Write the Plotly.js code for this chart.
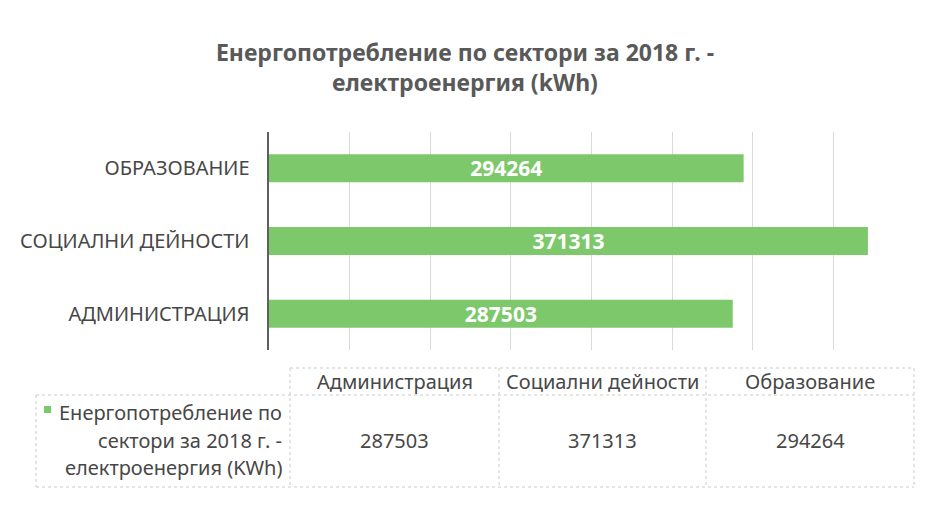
<!DOCTYPE html>
<html>
<head>
<meta charset="utf-8">
<script src="https://cdn.plot.ly/plotly-3.0.1.min.js"></script>
<style>html,body{margin:0;padding:0;background:#fff;}#chart{width:930px;height:506px;}</style>
</head>
<body>
<div id="chart"></div>
<script>
// ---- data ----
var categories = ['Администрация', 'Социални дейности', 'Образование'];
var values = [287503, 371313, 294264];
var seriesLabelLines = ['Енергопотребление по', 'сектори за 2018 г. -', 'електроенергия (KWh)'];
var chartTitle = 'Енергопотребление по сектори за 2018 г. -<br>електроенергия (kWh)';

// ---- layout helpers ----
var W = 930, H = 506;
var M = {l: 269, r: 60, t: 132, b: 156};
var PW = W - M.l - M.r, PH = H - M.t - M.b;
function px(x) { return (x - M.l) / PW; }
function py(y) { return (H - M.b - y) / PH; }

var FONT = '"Noto Sans", "Open Sans", "DejaVu Sans", sans-serif';
var green = '#7ec86c';
var textGray = '#474747';
var lineGray = '#cacaca';
var tableSize = 20;

var trace = {
  type: 'bar',
  orientation: 'h',
  y: categories.map(function (c) { return c.toUpperCase(); }),
  x: values,
  marker: {color: green},
  text: values.map(String),
  textposition: 'inside',
  insidetextanchor: 'middle',
  constraintext: 'none',
  textfont: {color: '#ffffff', size: 21, family: FONT, weight: 'bold'},
  hoverinfo: 'x+y'
};

var shapes = [];
var annotations = [];
function hline(x0, x1, y) {
  shapes.push({type: 'line', xref: 'paper', yref: 'paper', x0: px(x0), x1: px(x1), y0: py(y), y1: py(y),
    line: {color: lineGray, width: 1, dash: 'dot'}});
}
function vline(x, y0, y1) {
  shapes.push({type: 'line', xref: 'paper', yref: 'paper', x0: px(x), x1: px(x), y0: py(y0), y1: py(y1),
    line: {color: lineGray, width: 1, dash: 'dot'}});
}
// table grid
var colEdges = [290, 499, 706, 914];
var tTop = 368, tMid = 395, tBot = 487, tLeft = 36;
hline(colEdges[0], colEdges[3], tTop);
hline(tLeft, colEdges[3], tMid);
hline(tLeft, colEdges[3], tBot);
vline(tLeft, tMid, tBot);
colEdges.forEach(function (x) { vline(x, tTop, tBot); });

// header + values
categories.forEach(function (c, i) {
  var cx = (colEdges[i] + colEdges[i + 1]) / 2;
  annotations.push({xref: 'paper', yref: 'paper', x: px(cx), y: py(381), xanchor: 'center', yanchor: 'middle',
    text: c, showarrow: false, font: {family: FONT, size: tableSize, color: textGray}});
  annotations.push({xref: 'paper', yref: 'paper', x: px(cx), y: py(440), xanchor: 'center', yanchor: 'middle',
    text: String(values[i]), showarrow: false, font: {family: FONT, size: tableSize, color: textGray}});
});
// series label (legend key row)
var lineYs = [412, 440, 467];
seriesLabelLines.forEach(function (t, i) {
  annotations.push({xref: 'paper', yref: 'paper', x: px(284), y: py(lineYs[i]), xanchor: 'right', yanchor: 'middle',
    text: t, showarrow: false, font: {family: FONT, size: tableSize, color: textGray}});
});
shapes.push({type: 'rect', xref: 'paper', yref: 'paper', x0: px(44), x1: px(51), y0: py(406), y1: py(413),
  fillcolor: green, line: {width: 0}});

var layout = {
  width: W, height: H,
  margin: M,
  paper_bgcolor: '#ffffff',
  plot_bgcolor: '#ffffff',
  font: {family: FONT, color: textGray},
  title: {
    text: chartTitle,
    font: {family: FONT, size: 23, color: '#595959', weight: 'bold'},
    x: 0.5, xanchor: 'center', xref: 'container',
    y: 1 - 61 / H, yanchor: 'top', yref: 'container'
  },
  showlegend: false,
  bargap: 0.615,
  xaxis: {
    range: [0, 372600],
    dtick: 50000, tick0: 0,
    showgrid: true, gridcolor: '#d9d9d9', gridwidth: 1,
    showticklabels: false, zeroline: false, showline: false, ticks: '',
    fixedrange: true
  },
  yaxis: {
    type: 'category',
    showline: true, linecolor: '#5f5f5f', linewidth: 2.5,
    ticks: '', ticklabelstandoff: 13,
    tickfont: {family: FONT, size: 20, color: textGray},
    showgrid: false, zeroline: false,
    fixedrange: true
  },
  shapes: shapes,
  annotations: annotations
};

Plotly.newPlot('chart', [trace], layout, {displayModeBar: false, staticPlot: true});
</script>
</body>
</html>
